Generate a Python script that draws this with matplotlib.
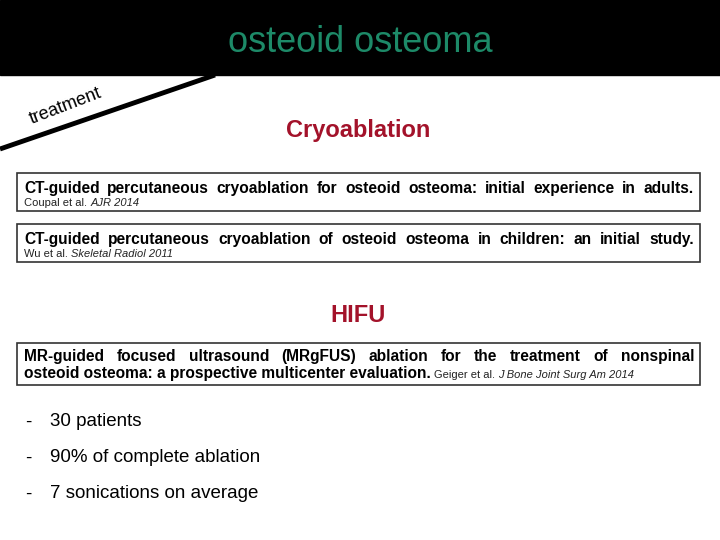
import matplotlib
matplotlib.use("Agg")
import matplotlib.pyplot as plt
from matplotlib.patches import Rectangle

plt.rcParams['font.family'] = ['Liberation Sans', 'DejaVu Sans']

title = "osteoid osteoma"
tag = "treatment"
sections = ["Cryoablation", "HIFU"]
papers = [
    (["CT-guided percutaneous cryoablation for osteoid osteoma: initial experience in adults."],
     [("Coupal et al. ", "normal"), ("AJR 2014", "italic")]),
    (["CT-guided percutaneous cryoablation of osteoid osteoma in children: an initial study."],
     [("Wu et al. ", "normal"), ("Skeletal Radiol 2011", "italic")]),
    (["MR-guided focused ultrasound (MRgFUS) ablation for the treatment of nonspinal",
      "osteoid osteoma: a prospective multicenter evaluation."],
     [("Geiger et al. ", "normal"), ("J Bone Joint Surg Am 2014", "italic")]),
]
bullets = ["30 patients", "90% of complete ablation", "7 sonications on average"]

red = "#a3122a"
fig = plt.figure(figsize=(7.2, 5.4), dpi=100)
ax = fig.add_axes([0, 0, 1, 1])
ax.set_xlim(0, 720)
ax.set_ylim(540, 0)
ax.axis('off')
fig.canvas.draw()
rend = fig.canvas.get_renderer()


def width_px(t):
    return t.get_window_extent(renderer=rend).width


def justify(words, x0, x1, y, **kw):
    ts = [ax.text(0, y, w, va='baseline', **kw) for w in words]
    ws = [width_px(t) for t in ts]
    gap = (x1 - x0 - sum(ws)) / (len(ws) - 1)
    x = x0
    for t, w in zip(ts, ws):
        t.set_x(x)
        x += w + gap


def runs(parts, x, y, size):
    for txt, style in parts:
        t = ax.text(x, y, txt, va='baseline', fontsize=size, style=style, color='#222222')
        x += width_px(t)
    return x


# header
ax.add_patch(Rectangle((0, 0), 720, 75, color='black'))
ax.text(360, 42, title, ha='center', va='center', fontsize=26, color='#1d8a68')
ax.plot([0, 215], [149, 75], color='black', lw=3.5, solid_capstyle='butt')
ax.text(66, 106, tag, ha='center', va='center', rotation=21, fontsize=13)

ax.text(358, 130, sections[0], ha='center', va='center', fontsize=17, weight='bold', color=red)
ax.text(358, 316, sections[1], ha='center', va='center', fontsize=17, weight='bold', color=red)

boxes = [(173, 211), (224, 262), (343, 385)]
for (y0, y1), (lines, cite) in zip(boxes, papers):
    ax.add_patch(Rectangle((17, y0), 683, y1 - y0, fill=False, ec='#333333', lw=1.2))
    if len(lines) == 1:
        by = y0 + 20
        justify(lines[0].split(), 24, 694, by, fontsize=11.2, weight='bold')
        runs(cite, 24, by + 13, 8)
    else:
        by = y0 + 18
        justify(lines[0].split(), 24, 694, by, fontsize=11.2, weight='bold')
        t = ax.text(24, by + 17, lines[1], va='baseline', fontsize=11.2, weight='bold')
        runs(cite, 24 + width_px(t) + 3, by + 17, 8)

for i, b in enumerate(bullets):
    y = 422 + 36 * i
    ax.text(25, y, "-", va='center', fontsize=13.5)
    ax.text(50, y, b, va='center', fontsize=13.5)

fig.savefig("out.png", dpi=100)
